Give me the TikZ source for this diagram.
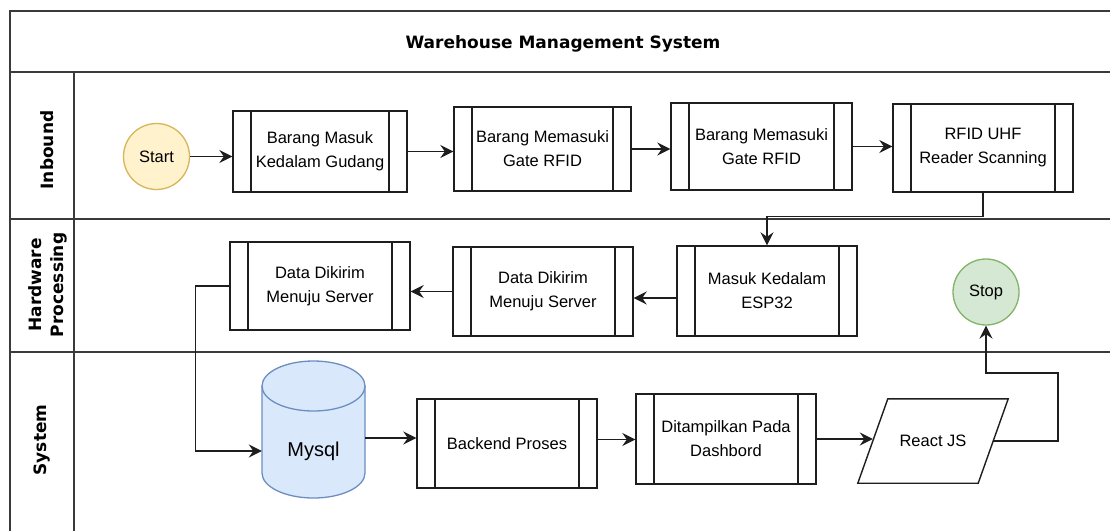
\documentclass[tikz,border=0pt]{standalone}
\usepackage{fontspec}
\setmainfont{Liberation Sans}
\newfontfamily\dejavu{DejaVu Sans}
\usetikzlibrary{arrows.meta}
\definecolor{startfill}{HTML}{FFF2CC}
\definecolor{startline}{HTML}{D6B656}
\definecolor{stopfill}{HTML}{D5E8D4}
\definecolor{stopline}{HTML}{82B366}
\definecolor{dbfill}{HTML}{DAE8FC}
\definecolor{dbline}{HTML}{6C8EBF}
\definecolor{ink}{HTML}{1E1E1E}
\definecolor{framec}{HTML}{3A3A3A}
\tikzset{
  frame/.style={draw=framec, line width=1.6pt},
  body/.style={font=\fontsize{16.5}{24}\selectfont, text=black},
  proc/.style={draw=ink, line width=1.4pt, fill=white, align=center, body,
    path picture={
      \draw[ink, line width=1.4pt]
        ([xshift=18pt]path picture bounding box.north west) -- ([xshift=18pt]path picture bounding box.south west)
        ([xshift=-18pt]path picture bounding box.north east) -- ([xshift=-18pt]path picture bounding box.south east);
    }},
  lanelabel/.style={font=\dejavu\bfseries\fontsize{17}{22.5}\selectfont, align=center, rotate=90},
  arr/.style={draw=ink, line width=1.5pt, -{Stealth[length=13pt,width=13pt,inset=4.5pt]}},
  terminal/.style={circle, line width=1.3pt, minimum size=66pt, inner sep=0pt, body}
}
\begin{document}
\begin{tikzpicture}[x=1pt,y=-1pt]
\useasboundingbox (0,0) rectangle (1110,531);
\fill[white] (0,0) rectangle (1110,531);

% swimlane frame
\draw[frame] (10,531) -- (10,11) -- (1110,11);
\draw[frame] (10,72) -- (1110,72);
\draw[frame] (74,72) -- (74,531);
\draw[frame] (10,219) -- (1110,219);
\draw[frame] (10,352) -- (1110,352);

% title and lane labels
\node[font=\dejavu\bfseries\fontsize{17}{20}\selectfont] (title) at (563,44) {Warehouse Management System};
\node[lanelabel] (linbound) at (47,150) {Inbound};
\node[lanelabel] (lhw) at (48,285) {Hardware\\Processing};
\node[lanelabel] (lsys) at (42,440) {System};

% inbound lane
\node[terminal, draw=startline, fill=startfill] (start) at (156.5,156.5) {Start};
\node[proc, minimum width=174pt, minimum height=81pt] (b1) at (320,151.5) {Barang Masuk\\Kedalam Gudang};
\node[proc, minimum width=177pt, minimum height=84pt] (b2) at (542.5,149) {Barang Memasuki\\Gate RFID};
\node[proc, minimum width=181pt, minimum height=87pt] (b3) at (761.5,146.5) {Barang Memasuki\\Gate RFID};
\node[proc, minimum width=180pt, minimum height=88pt] (b4) at (983,148) {RFID UHF\\Reader Scanning};

% hardware lane
\node[proc, minimum width=180pt, minimum height=88pt] (b5) at (320,286) {Data Dikirim\\Menuju Server};
\node[proc, minimum width=180pt, minimum height=89pt] (b6) at (543,291.5) {Data Dikirim\\Menuju Server};
\node[proc, minimum width=180pt, minimum height=90pt] (esp) at (767,291) {Masuk Kedalam\\ESP32};
\node[terminal, draw=stopline, fill=stopfill] (stop) at (986,292) {Stop};

% system lane: database cylinder
\filldraw[fill=dbfill, draw=dbline, line width=1.3pt]
  (262,386) -- (262,473) arc[start angle=180, end angle=0, x radius=51.5, y radius=25] -- (365,386);
\filldraw[fill=dbfill, draw=dbline, line width=1.3pt] (313.5,386) ellipse [x radius=51.5, y radius=25];
\node[font=\fontsize{20}{24}\selectfont, minimum width=103pt, inner sep=0pt] (mysql) at (313.5,451) {Mysql};

\node[proc, minimum width=180pt, minimum height=89pt] (backend) at (507,443.5) {Backend Proses};
\node[proc, minimum width=180pt, minimum height=90pt] (dash) at (726,439) {Ditampilkan Pada\\Dashbord};
\node[body, minimum width=120pt, minimum height=84pt, inner sep=0pt] (react) at (933,441) {React JS};
\draw[ink, line width=1.4pt] ([xshift=-15pt]react.south west) -- ([xshift=15pt]react.north west)
  -- ([xshift=15pt]react.north east) -- ([xshift=-15pt]react.south east) -- cycle;

% connectors
\draw[arr] (start.east) -- (start.east -| b1.west);
\draw[arr] (b1.east) -- (b1.east -| b2.west);
\draw[arr] (b2.east) -- (b2.east -| b3.west);
\draw[arr] (b3.east) -- (b3.east -| b4.west);
\draw[arr] (b4.south) -- ++(0,24) -| (esp.north);
\draw[arr] ([yshift=-7pt]esp.west) -- ([yshift=-7pt]esp.west -| b6.east);
\draw[arr] (b6.west) -- (b6.west -| b5.east);
\draw[arr] (b5.west) -- ++(-34,0) |- (mysql.west);
\draw[arr] ([yshift=13pt]mysql.east) -- ([yshift=13pt]mysql.east -| backend.west);
\draw[arr] ([yshift=4pt]backend.east) -- ([yshift=4pt]backend.east -| dash.west);
\draw[arr] (dash.east) -- (dash.east -| react.west);
\draw[arr] (react.east) -| ++(65,-68) -| (stop.south);
\end{tikzpicture}
\end{document}
